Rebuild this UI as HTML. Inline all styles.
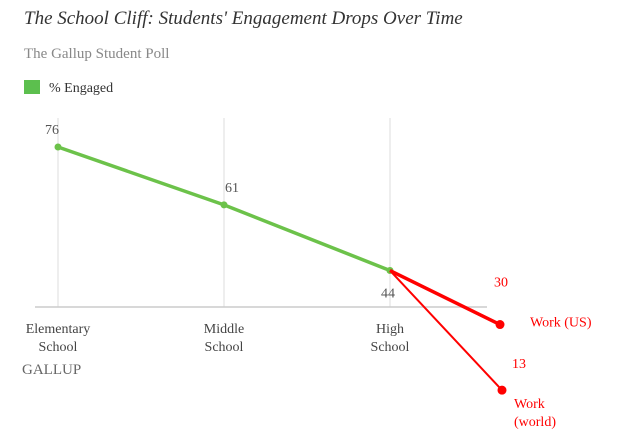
<!DOCTYPE html>
<html><head><meta charset="utf-8"><style>
body{margin:0;background:#fff;width:640px;height:433px;overflow:hidden}
svg{display:block}
</style></head><body>
<svg width="640" height="433">
<text x="24" y="24" font-family="Liberation Serif, serif" font-style="italic" font-size="19" fill="#333">The School Cliff: Students' Engagement Drops Over Time</text>
<text x="24" y="58" font-family="Liberation Serif, serif" font-size="15" fill="#888">The Gallup Student Poll</text>
<rect x="24" y="80" width="16" height="14" fill="#5cbf4e"/>
<text x="49" y="92" font-family="Liberation Serif, serif" font-size="14" fill="#333">% Engaged</text>
<g id="grid"></g>
<line x1="35" y1="307" x2="487" y2="307" stroke="#ccc" stroke-width="1.5"/>
<g id="marks"></g>
<text x="22" y="374" font-family="Liberation Serif, serif" font-size="15" fill="#666">GALLUP</text>
</svg>
<script>
const categories=["Elementary|School","Middle|School","High|School"];
const engaged=[76,61,44];
const workLabels=["Work (US)","Work|(world)"];
const workValues=[30,13];
const NS="http://www.w3.org/2000/svg";
const xPos=i=>58+i*166;
const y=v=>147+(76-v)*3.86;
function mk(tag,attrs,parent,text){const e=document.createElementNS(NS,tag);for(const k in attrs)e.setAttribute(k,attrs[k]);if(text!=null)e.textContent=text;parent.appendChild(e);return e;}
const g=document.getElementById("grid"),m=document.getElementById("marks");
categories.forEach((c,i)=>{
 const l=mk("line",{x1:xPos(i),y1:118,x2:xPos(i),y2:307,stroke:"#ddd","stroke-width":1},g);
 
 
 c.split("|").forEach((p,j)=>{
  const t=mk("text",{x:xPos(i),y:333+j*18,"text-anchor":"middle","font-family":"Liberation Serif, serif","font-size":"14",fill:"#444"},g,p);
  
  
 });
});
const pts=engaged.map((v,i)=>xPos(i)+","+y(v)).join(" ");
const pl=mk("polyline",{points:pts,fill:"none",stroke:"#6cc24a","stroke-width":3.5},m);


engaged.forEach((v,i)=>{
 const c=mk("circle",{cx:xPos(i),cy:y(v),r:3.5,fill:"#6cc24a"},m);
 
 
 const ly=i==2?y(v)+27:y(v)-13;
 const t=mk("text",{x:xPos(i)+(i==0?-6:i==2?-2:8),y:ly,"text-anchor":"middle","font-family":"Liberation Serif, serif","font-size":"14",fill:"#555"},m,v);
 
 
});
const hx=xPos(2),hy=y(engaged[2]);
workValues.forEach((v,i)=>{
 const ex=500+i*2,ey=y(v);
 const l=mk("line",{x1:hx,y1:hy,x2:ex,y2:ey,stroke:"#f00","stroke-width":i==0?3.5:2},m);
 
 
 const c=mk("circle",{cx:ex,cy:ey,r:4.5,fill:"#f00"},m);
 
 
 const vt=mk("text",{x:ex+(i==0?-6:10),y:ey-(i==0?38:22),"font-family":"Liberation Serif, serif","font-size":"14",fill:"#f00"},m,v);
 
 
 workLabels[i].split("|").forEach((p,j)=>{
  const t=mk("text",{x:i==0?ex+30:ex+12,y:(i==0?ey+2:ey+18)+j*18,"font-family":"Liberation Serif, serif","font-size":"14",fill:"#f00"},m,p);
  
  
 });
});
</script>
</body></html>
